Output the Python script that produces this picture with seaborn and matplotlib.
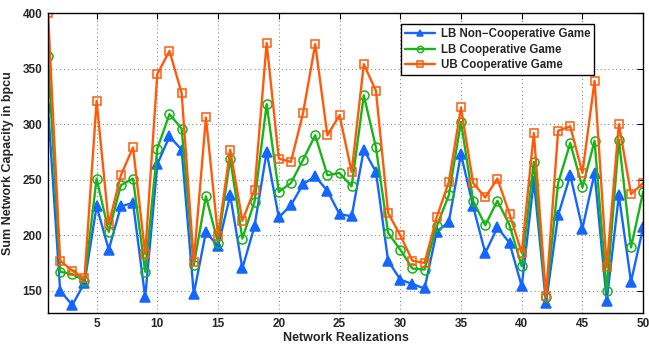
import numpy as np
import pandas as pd
import seaborn as sns
import matplotlib.pyplot as plt

# data
realizations = list(range(1, 51))
lb_noncoop = [315, 150, 137, 157, 226, 187, 226, 229, 144, 264,
              289, 277, 147, 203, 190, 236, 170, 208, 275, 216,
              227, 246, 253, 240, 219, 217, 277, 257, 177, 160,
              156, 152, 203, 212, 273, 226, 184, 207, 193, 154,
              249, 139, 218, 254, 206, 256, 141, 236, 158, 207]
lb_coop = [361, 167, 165, 159, 251, 203, 245, 251, 167, 278,
           309, 296, 173, 235, 193, 269, 197, 230, 318, 239,
           247, 268, 290, 254, 256, 244, 326, 279, 202, 187,
           170, 169, 208, 236, 302, 231, 209, 231, 209, 172,
           266, 144, 247, 283, 243, 285, 150, 286, 189, 239]
ub_coop = [400, 177, 168, 161, 321, 210, 254, 279, 183, 345,
           366, 328, 176, 306, 199, 277, 213, 241, 373, 269,
           266, 310, 372, 290, 308, 257, 354, 330, 220, 200,
           177, 175, 216, 248, 315, 247, 234, 251, 219, 184,
           292, 145, 294, 298, 256, 339, 171, 300, 237, 247]

series = ['LB Non\u2212Cooperative Game', 'LB Cooperative Game', 'UB Cooperative Game']
df = pd.DataFrame({
    'Network Realizations': realizations * 3,
    'Sum Network Capacity in bpcu': lb_noncoop + lb_coop + ub_coop,
    'Series': [series[0]] * 50 + [series[1]] * 50 + [series[2]] * 50,
})

sns.set_style('white')
plt.rcParams['font.family'] = ['Liberation Sans', 'DejaVu Sans']

fig = plt.figure(figsize=(6.49, 3.45), dpi=100)
ax = fig.add_axes([0.074, 0.093, 0.917, 0.869])

styles = {
    series[0]: dict(color='#1466ff', marker='^', mfc='#1466ff', ms=6.5),
    series[1]: dict(color='#18b418', marker='o', mfc='none', ms=6.5),
    series[2]: dict(color='#ff5a0a', marker='s', mfc='none', ms=6),
}
for name in series:
    st = styles[name]
    sns.lineplot(data=df[df['Series'] == name], x='Network Realizations',
                 y='Sum Network Capacity in bpcu', ax=ax, label=name,
                 color=st['color'], marker=st['marker'], markersize=st['ms'],
                 markerfacecolor=st['mfc'], markeredgecolor=st['color'],
                 markeredgewidth=1.1, linewidth=1.7)

ax.set_xlim(1, 50)
ax.set_ylim(130, 400)
ax.set_xticks(range(5, 51, 5))
ax.set_yticks(range(150, 401, 50))
ax.grid(True, linestyle=(0, (1, 3)), color='#777777', linewidth=0.7)
for s in ax.spines.values():
    s.set_color('black')
    s.set_linewidth(1)
ax.tick_params(axis='both', direction='in', length=4, labelsize=8.5, pad=4,
               top=True, right=True, color='black')
for lbl in ax.get_xticklabels() + ax.get_yticklabels():
    lbl.set_fontweight('bold')
ax.set_xlabel('Network Realizations', fontsize=9, fontweight='bold', labelpad=1)
ax.set_ylabel('Sum Network Capacity in bpcu', fontsize=9, fontweight='bold', labelpad=6)

leg = ax.legend(loc='upper left', bbox_to_anchor=(0.593, 0.963), fancybox=False,
                edgecolor='black', framealpha=1, prop={'weight': 'bold', 'size': 8.3},
                handlelength=2.6, handletextpad=0.5, borderpad=0.35,
                labelspacing=0.3, markerscale=0.7, borderaxespad=0)
leg.get_frame().set_linewidth(1)

fig.savefig('out.png', dpi=100)
